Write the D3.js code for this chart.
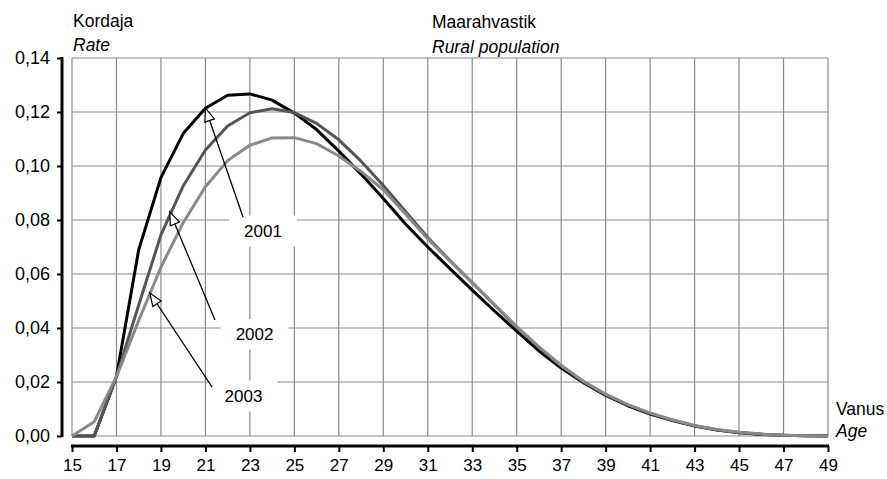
<!DOCTYPE html>
<html>
<head>
<meta charset="utf-8">
<script src="https://cdn.jsdelivr.net/npm/d3@7"></script>
<style>
    html, body { margin: 0; padding: 0; background: #fff; }
    svg { display: block; font-family: 'Liberation Sans', Arial, Helvetica, sans-serif; }
    .tick-label { fill: #000; }
    .title { font-size: 17.5px; fill: #000; }
    .title.en { font-style: italic; }
</style>
</head>
<body>
<div id="chart"></div>
<script>
// Ages on the x axis
const ages = d3.range(15, 50);

// Age-specific rates, rural population
const rate2001 = [0, 0, 0.022, 0.069, 0.0957, 0.112, 0.1214, 0.1262, 0.1267, 0.1244,
    0.1196, 0.1135, 0.1055, 0.097, 0.088, 0.0785, 0.070, 0.062, 0.054, 0.0463,
    0.0388, 0.0315, 0.0252, 0.0197, 0.015, 0.0112, 0.0081, 0.0057, 0.0037, 0.0022,
    0.0012, 0.0006, 0.0003, 0.0001, 0];
const rate2002 = [0, 0, 0.022, 0.0485, 0.0745, 0.0926, 0.1059, 0.1148, 0.1197, 0.1212,
    0.1198, 0.1158, 0.1097, 0.1018, 0.0928, 0.0832, 0.0735, 0.065, 0.0568, 0.0485,
    0.0403, 0.0328, 0.0259, 0.020, 0.0153, 0.0115, 0.0084, 0.0059, 0.0038, 0.0023,
    0.0013, 0.0007, 0.0003, 0.0001, 0];
const rate2003 = [0, 0.0053, 0.022, 0.0428, 0.0625, 0.079, 0.0923, 0.102, 0.1077, 0.1104,
    0.1105, 0.1083, 0.1037, 0.098, 0.0912, 0.0822, 0.073, 0.0648, 0.0568, 0.0487,
    0.0405, 0.033, 0.0262, 0.0203, 0.0155, 0.0116, 0.0085, 0.006, 0.0039, 0.0024,
    0.0014, 0.0007, 0.0003, 0.0001, 0];

const seriesNames = ['2001', '2002', '2003'];
const seriesValues = [rate2001, rate2002, rate2003];

// Tick values
const xTicks = d3.range(15, 50, 2);
const yTicks = [0, 0.02, 0.04, 0.06, 0.08, 0.10, 0.12, 0.14];

// Callout labels: point on the curve and where the label sits (data units)
const calloutNames = ['2001', '2002', '2003'];
const calloutTip = [[21, 0.1214], [19.4, 0.083], [18.5, 0.053]];
const calloutTail = [[22.69, 0.0811], [21.43, 0.043], [21.3, 0.0181]];
const calloutLabel = [[23.59, 0.0759], [23.21, 0.0376], [22.71, 0.0148]];

const width = 887;
const height = 479;
const colors = ['#000000', '#555555', '#898989'];

const svg = d3.select('#chart')
    .append('svg')
    .attr('width', width)
    .attr('height', height);

const x = d3.scaleLinear().domain([15, 49]).range([72, 828]);
const y = d3.scaleLinear().domain([0, 0.14]).range([436, 58]);

const fmt = v => d3.format('.2f')(v).replace('.', ',');

// Grid
const grid = svg.append('g').attr('class', 'grid');
grid.selectAll('.hline')
    .data(yTicks)
    .enter()
    .append('line')
    .attr('x1', x(15))
    .attr('x2', x(49))
    .attr('y1', d => y(d))
    .attr('y2', d => y(d))
    .style('stroke', '#8a8a8a')
    .style('stroke-width', '1.2px');
grid.selectAll('.vline')
    .data(xTicks)
    .enter()
    .append('line')
    .attr('x1', d => x(d))
    .attr('x2', d => x(d))
    .attr('y1', y(0.14))
    .attr('y2', y(0))
    .style('stroke', '#8a8a8a')
    .style('stroke-width', '1.2px');

// Y axis (offset to the left of the plot)
const yAxis = svg.append('g')
    .attr('transform', 'translate(62,0)')
    .call(d3.axisLeft(y).tickValues(yTicks).tickFormat(fmt).tickSize(5).tickPadding(7));
yAxis.attr('font-family', null).attr('font-size', null);
yAxis.select('.domain')
    .attr('d', `M0,${y(0.14) - 1}V${y(0) + 1}`)
    .style('stroke', '#000')
    .style('stroke-width', '3px');
yAxis.selectAll('.tick line').style('stroke', '#000').style('stroke-width', '2px');
yAxis.selectAll('.tick text')
    .attr('class', 'tick-label')
    .style('font-size', '18px');

// X axis (offset below the plot)
const xAxis = svg.append('g')
    .attr('transform', 'translate(0,446)')
    .call(d3.axisBottom(x).tickValues(xTicks).tickSize(6).tickPadding(7));
xAxis.attr('font-family', null).attr('font-size', null);
xAxis.select('.domain')
    .attr('d', `M${x(15) - 1},0H${x(49) + 1}`)
    .style('stroke', '#000')
    .style('stroke-width', '3px');
xAxis.selectAll('.tick line').style('stroke', '#000').style('stroke-width', '2px');
xAxis.selectAll('.tick text')
    .attr('class', 'tick-label')
    .style('font-size', '17px');

// Series lines
const line = d3.line()
    .x((d, i) => x(ages[i]))
    .y(d => y(d));

svg.append('g')
    .selectAll('path')
    .data(seriesValues)
    .enter()
    .append('path')
    .attr('d', line)
    .style('fill', 'none')
    .style('stroke', (d, i) => colors[i])
    .style('stroke-width', '3px')
    .style('stroke-linejoin', 'round');

// Callouts: white box, label and open arrow to the curve
const callouts = svg.append('g').attr('class', 'callouts');
calloutNames.forEach((name, i) => {
    const [tx, ty] = [x(calloutTip[i][0]), y(calloutTip[i][1])];
    const [sx, sy] = [x(calloutTail[i][0]), y(calloutTail[i][1])];
    const [lx, ly] = [x(calloutLabel[i][0]), y(calloutLabel[i][1])];

    const g = callouts.append('g');
    const label = g.append('text')
        .attr('x', lx)
        .attr('y', ly)
        .attr('text-anchor', 'middle')
        .attr('dominant-baseline', 'central')
        .style('font-size', '17px')
        .text(name);
    const box = label.node().getBBox();
    g.insert('rect', 'text')
        .attr('x', box.x - 15)
        .attr('y', box.y - 6)
        .attr('width', box.width + 30)
        .attr('height', box.height + 12)
        .style('fill', '#fff');

    // Arrow shaft and open head
    const ang = Math.atan2(ty - sy, tx - sx);
    const headLen = 13, headHalf = 5;
    const bx = tx - headLen * Math.cos(ang), by = ty - headLen * Math.sin(ang);
    const px = -Math.sin(ang) * headHalf, py = Math.cos(ang) * headHalf;
    g.append('line')
        .attr('x1', sx).attr('y1', sy)
        .attr('x2', bx).attr('y2', by)
        .style('stroke', '#000')
        .style('stroke-width', '1.3px');
    g.append('path')
        .attr('d', `M${tx},${ty}L${bx + px},${by + py}L${bx - px},${by - py}Z`)
        .style('fill', '#fff')
        .style('stroke', '#000')
        .style('stroke-width', '1.2px');
});

// Titles
svg.append('text').attr('class', 'title').attr('x', 73).attr('y', 27).text('Kordaja');
svg.append('text').attr('class', 'title en').attr('x', 73).attr('y', 51).text('Rate');
svg.append('text').attr('class', 'title').attr('x', 432).attr('y', 28).text('Maarahvastik');
svg.append('text').attr('class', 'title en').attr('x', 432).attr('y', 53).text('Rural population');
svg.append('text').attr('class', 'title').attr('x', 836).attr('y', 415).text('Vanus');
svg.append('text').attr('class', 'title en').attr('x', 836).attr('y', 437).text('Age');
</script>
</body>
</html>
